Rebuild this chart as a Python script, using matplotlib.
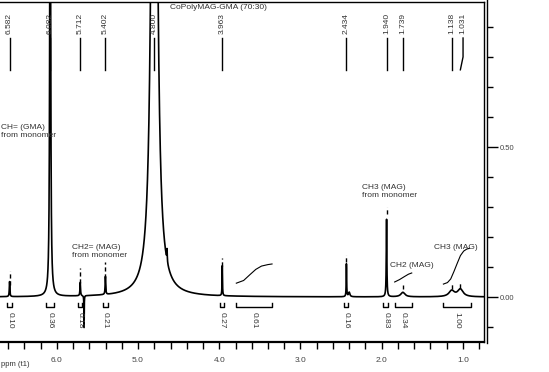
import numpy as np
import matplotlib
matplotlib.use("Agg")
import matplotlib.pyplot as plt

plt.rcParams['font.family'] = ['Liberation Sans', 'DejaVu Sans']

# peaks: position (ppm), height, half width (ppm)
peak_ppm = [6.582, 6.082, 5.712, 5.665, 5.402, 4.800, 4.800, 4.643, 3.963, 2.434, 2.40, 1.940, 1.739, 1.138, 1.031]
peak_height = [0.05, 2.0, 0.045, -0.11, 0.06, 4.0, 0.25, 0.04, 0.10, 0.11, 0.015, 0.26, 0.015, 0.02, 0.025]
peak_hw = [0.004, 0.006, 0.004, 0.002, 0.004, 0.025, 0.05, 0.003, 0.003, 0.003, 0.01, 0.004, 0.03, 0.04, 0.04]

# peak picking labels
label_ppm = [6.582, 6.082, 5.712, 5.402, 4.800, 3.963, 2.434, 1.940, 1.739, 1.138, 1.031]
label_text = ["6.582", "6.082", "5.712", "5.402", "4.800", "3.963", "2.434", "1.940", "1.739", "1.138", "1.031"]
label_pos = [6.582, 6.082, 5.712, 5.402, 4.800, 3.963, 2.434, 1.940, 1.739, 1.138, 0.998]

# integrals: start, end, value
int_start = [6.61, 6.13, 5.74, 5.43, 3.99, 3.79, 2.46, 1.98, 1.84, 1.24]
int_end = [6.55, 6.03, 5.69, 5.37, 3.94, 3.35, 2.41, 1.92, 1.63, 0.90]
int_value = ["0.10", "0.36", "0.18", "0.21", "0.27", "0.61", "0.16", "0.83", "0.34", "1.00"]

# integral curves drawn over the broad regions
curve1_ppm = [3.79, 3.70, 3.62, 3.55, 3.48, 3.40, 3.35]
curve1_val = [0.046, 0.055, 0.075, 0.092, 0.103, 0.108, 0.110]
curve2_ppm = [1.84, 1.78, 1.72, 1.67, 1.63]
curve2_val = [0.050, 0.058, 0.068, 0.076, 0.080]
curve3_ppm = [1.24, 1.19, 1.15, 1.11, 1.07, 1.03, 0.99, 0.95, 0.92]
curve3_val = [0.043, 0.048, 0.060, 0.085, 0.112, 0.138, 0.153, 0.160, 0.162]

# small dashed markers above picked peaks (bottom, top)
mark_ppm = [6.582, 5.712, 5.402, 3.963, 2.434, 1.940, 1.739, 1.138, 1.031]
mark_lo = [0.040, 0.047, 0.063, 0.103, 0.115, 0.275, 0.025, 0.025, 0.030]
mark_hi = [0.087, 0.097, 0.117, 0.130, 0.140, 0.300, 0.040, 0.045, 0.045]

ppm = np.linspace(6.75, 0.70, 8000)
spec = np.zeros_like(ppm)
for p, h, w in zip(peak_ppm, peak_height, peak_hw):
    spec += h * w**2 / ((ppm - p)**2 + w**2)

fig = plt.figure(figsize=(5.49, 3.72), dpi=100)
ax = fig.add_axes([0, 30/372, 484/549, 340/372])
ax.plot(ppm, spec, color='black', lw=1.2)
ax.set_xlim(6.70, 0.74)
ax.set_ylim(-0.15, 0.983)
ax.spines['left'].set_visible(False)
ax.spines['bottom'].set_linewidth(1.6)
for s in ['top', 'right']:
    ax.spines[s].set_linewidth(1.0)
ax.set_yticks([])
ax.set_xticks([6.0, 5.0, 4.0, 3.0, 2.0, 1.0])
ax.set_xticklabels(["6.0", "5.0", "4.0", "3.0", "2.0", "1.0"])
ax.set_xticks(np.arange(0.8, 6.8, 0.2), minor=True)
ax.tick_params(axis='x', which='both', direction='out', length=5, width=1, labelsize=6, labelcolor='#444444', pad=6)

txt = dict(fontsize=6, color='#333333')

# peak labels at top
for pos, p, t in zip(label_pos, label_ppm, label_text):
    ax.text(pos, 0.877, t, rotation=90, ha='center', va='bottom', **txt)
    if pos == p:
        ax.plot([p, p], [0.863, 0.757], color='black', lw=1)
    else:
        ax.plot([pos, pos, p], [0.863, 0.800, 0.757], color='black', lw=1)

for p, lo, hi in zip(mark_ppm, mark_lo, mark_hi):
    ax.plot([p, p], [lo, hi], color='black', lw=1, ls=(0, (3, 2)))

# integrals
for a, b, v in zip(int_start, int_end, int_value):
    ax.plot([a, a, b, b], [-0.020, -0.033, -0.033, -0.020], color='black', lw=1)
    ax.text((a + b) / 2, -0.050, v, rotation=270, ha='center', va='top', **txt)

for cp, cv in [(curve1_ppm, curve1_val), (curve2_ppm, curve2_val), (curve3_ppm, curve3_val)]:
    ax.plot(cp, cv, color='black', lw=0.8)

ax.text(4.606, 0.977, "CoPolyMAG-GMA (70:30)", ha='left', va='top', **txt)
ax.text(6.69, 0.578, "CH= (GMA)\nfrom monomer", ha='left', va='top', linespacing=1.3, **txt)
ax.text(5.813, 0.177, "CH2= (MAG)\nfrom monomer", ha='left', va='top', linespacing=1.3, **txt)
ax.text(2.242, 0.377, "CH3 (MAG)\nfrom monomer", ha='left', va='top', linespacing=1.3, **txt)
ax.text(1.897, 0.117, "CH2 (MAG)", ha='left', va='top', **txt)
ax.text(1.355, 0.177, "CH3 (MAG)", ha='left', va='top', **txt)
fig.text(0.002, 4/372, "ppm (t1)", ha='left', va='bottom', fontsize=5.5, color='#333333')

# separate intensity scale on the right
ax2 = fig.add_axes([470/549, 29/372, 17/549, 343/372])
ax2.set_ylim(-46/300, 297/300)
ax2.patch.set_visible(False)
for s in ['top', 'left', 'bottom']:
    ax2.spines[s].set_visible(False)
ax2.spines['right'].set_linewidth(1.0)
ax2.set_xticks([])
ax2.yaxis.tick_right()
ax2.set_yticks([0.0, 0.5])
ax2.set_yticklabels(["0.00", "0.50"])
ax2.set_yticks(np.arange(-0.1, 0.95, 0.1), minor=True)
ax2.tick_params(axis='y', which='major', length=8, width=1, labelsize=5.5, labelcolor='#444444', pad=1)
ax2.tick_params(axis='y', which='minor', length=4, width=1)

fig.savefig("out.png", dpi=100)
